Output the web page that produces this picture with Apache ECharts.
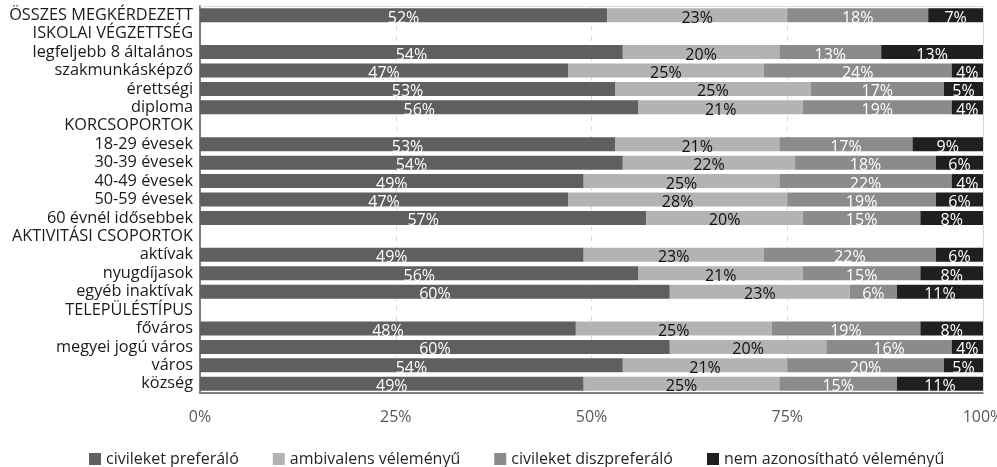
<!DOCTYPE html>
<html>
<head>
<meta charset="utf-8">
<script src="https://cdn.jsdelivr.net/npm/echarts@6/dist/echarts.min.js"></script>
<style>
  html, body { margin: 0; padding: 0; background: #fff; }
  #chart { width: 997px; height: 467px; }
</style>
</head>
<body>
<div id="chart"></div>
<script>
// Row labels, top to bottom; upper-case rows are group headings without bars
const categories = [
  'ÖSSZES MEGKÉRDEZETT',
  'ISKOLAI VÉGZETTSÉG',
  'legfeljebb 8 általános',
  'szakmunkásképző',
  'érettségi',
  'diploma',
  'KORCSOPORTOK',
  '18-29 évesek',
  '30-39 évesek',
  '40-49 évesek',
  '50-59 évesek',
  '60 évnél idősebbek',
  'AKTIVITÁSI CSOPORTOK',
  'aktívak',
  'nyugdíjasok',
  'egyéb inaktívak',
  'TELEPÜLÉSTÍPUS',
  'főváros',
  'megyei jogú város',
  'város',
  'község'
];

const seriesNames = [
  'civileket preferáló',
  'ambivalens véleményű',
  'civileket diszpreferáló',
  'nem azonosítható véleményű'
];

// Shares in percent; null on heading rows
const civiliPreferalo = [52, null, 54, 47, 53, 56, null, 53, 54, 49, 47, 57, null, 49, 56, 60, null, 48, 60, 54, 49];
const ambivalens      = [23, null, 20, 25, 25, 21, null, 21, 22, 25, 28, 20, null, 23, 21, 23, null, 25, 20, 21, 25];
const diszpreferalo   = [18, null, 13, 24, 17, 19, null, 17, 18, 22, 19, 15, null, 22, 15,  6, null, 19, 16, 20, 15];
const nemAzonosithato = [ 7, null, 13,  4,  5,  4, null,  9,  6,  4,  6,  8, null,  6,  8, 11, null,  8,  4,  5, 11];

const xTicks = [0, 25, 50, 75, 100];

const seriesValues = [civiliPreferalo, ambivalens, diszpreferalo, nemAzonosithato];
const colors = ['#5f5f5f', '#b3b3b3', '#8b8b8b', '#1f1f1f'];
const labelColors = ['#ffffff', '#111111', '#ffffff', '#ffffff'];

const FONT = 'Open Sans';

const chart = echarts.init(document.getElementById('chart'), null, { renderer: 'canvas' });

chart.setOption({
  animation: false,
  textStyle: { fontFamily: FONT },
  color: colors,
  grid: { left: 200, right: 14, top: 6, bottom: 74, containLabel: false, outerBoundsMode: 'none' },
  legend: {
    top: 446,
    left: 84,
    itemWidth: 12,
    itemHeight: 12,
    itemGap: 34,
    icon: 'rect',
    textStyle: { fontFamily: FONT, fontSize: 16, color: '#262626' },
    data: seriesNames
  },
  xAxis: {
    type: 'value',
    min: 0,
    max: 100,
    interval: 25,
    axisLabel: {
      fontFamily: FONT,
      fontSize: 16,
      color: '#595959',
      margin: 16,
      formatter: v => xTicks.includes(v) ? v + '%' : ''
    },
    axisLine: { show: true, lineStyle: { color: '#7f7f7f', width: 2 } },
    axisTick: { show: false },
    splitLine: { show: true, lineStyle: { color: '#d9d9d9', type: [5, 5], width: 1 } }
  },
  yAxis: {
    type: 'category',
    inverse: true,
    data: categories,
    axisLabel: { interval: 0, fontFamily: FONT, fontSize: 16.3, color: '#1a1a1a', margin: 7 },
    axisLine: { show: true, lineStyle: { color: '#7f7f7f', width: 2 } },
    axisTick: { show: false },
    splitLine: { show: false }
  },
  series: seriesNames.map((name, i) => ({
    name,
    type: 'bar',
    stack: 'total',
    barWidth: '76%',
    data: seriesValues[i],
    itemStyle: { color: colors[i] },
    label: {
      show: true,
      position: 'inside',
      offset: [0, 3],
      fontFamily: FONT,
      fontSize: 16,
      color: labelColors[i],
      formatter: p => (p.value == null ? '' : p.value + '%')
    },
    emphasis: { disabled: true }
  })).concat([{
    // light frame along the top and right of the plot area
    type: 'line',
    data: [],
    markLine: {
      silent: true,
      symbol: 'none',
      label: { show: false },
      lineStyle: { color: '#d9d9d9', type: 'solid', width: 1 },
      data: [
        [{ coord: [0, 0], y: 6 }, { coord: [100, 0], y: 6 }],
        [{ xAxis: 100, y: 6 }, { xAxis: 100, y: 393 }]
      ]
    }
  }])
});
</script>
</body>
</html>
